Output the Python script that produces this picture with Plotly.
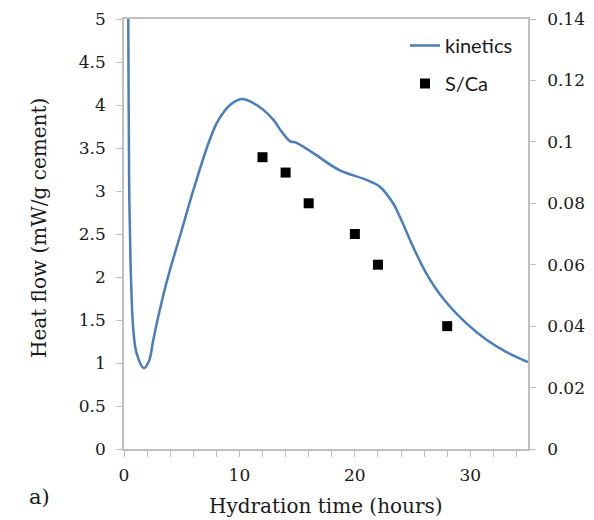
import plotly.graph_objects as go

# kinetics curve (hours, mW/g cement)
kin_t = [0.33, 0.37, 0.45, 0.52, 0.61, 0.81, 1.1, 1.72, 2.16, 2.54, 2.97, 3.75,
         4.9, 6.1, 7.3, 8.03, 8.6, 9.18, 10.19, 11.49, 12.93, 13.6, 14.37, 14.95, 16.4,
         18.7, 21.0, 22.16, 23.3, 23.9, 25.05, 26.2, 27.65, 29.67, 31.4, 33.1, 35.0]
kin_q = [5.6, 5.0, 3.0, 2.5, 1.97, 1.38, 1.11, 0.94, 1.02, 1.27, 1.54, 1.97,
         2.5, 3.05, 3.55, 3.79, 3.91, 4.0, 4.07, 4.0, 3.83, 3.70, 3.58, 3.56, 3.44,
         3.24, 3.13, 3.05, 2.86, 2.70, 2.35, 2.04, 1.75, 1.46, 1.27, 1.13, 1.01]

# S/Ca ratio (right axis)
sca_t = [12, 14, 16, 20, 22, 28]
sca_v = [0.095, 0.09, 0.08, 0.07, 0.06, 0.04]

AX = "#bfbfbf"
SERIF = "DejaVu Serif"
TXT = "#1a1a1a"

# page body has an 8px margin, so the figure is offset by (8, 8) in the window
OFF = 8
W, H = 586, 512
L, R, T, B = 116, 66, 11, 71
PW, PH = W - L - R, H - T - B


def px(x):  # window pixel -> paper x
    return (x - OFF - L) / PW


def py(y):  # window pixel -> paper y
    return (H - B - (y - OFF)) / PH


fig = go.Figure()
fig.add_trace(go.Scatter(x=kin_t, y=kin_q, mode="lines", name="kinetics", legendgroup="a",
                         line=dict(color="#4A7EBB", width=2.5, shape="spline", smoothing=1.0)))
fig.add_trace(go.Scatter(x=sca_t, y=sca_v, mode="markers", name="S/Ca", yaxis="y2", legendgroup="b",
                         marker=dict(symbol="square", size=10, color="black")))

tickfont = dict(family=SERIF, size=17, color=TXT)
fig.update_layout(
    width=W, height=H,
    margin=dict(l=L, r=R, t=T, b=B),
    plot_bgcolor="white", paper_bgcolor="white",
    showlegend=True,
    legend=dict(x=px(405), y=py(26), xanchor="left", yanchor="top",
                font=dict(family="Lato", size=20, color=TXT),
                bgcolor="rgba(0,0,0,0)", tracegroupgap=9, itemwidth=30),
    xaxis=dict(range=[0, 35], dtick=10, tick0=0, showgrid=False, zeroline=False,
               automargin=False,
               showline=True, linecolor=AX, linewidth=1.5, mirror=True,
               ticks="outside", ticklen=6, tickcolor=AX, ticklabelstandoff=4,
               minor=dict(dtick=2, ticks="outside", ticklen=6, tickcolor=AX, showgrid=False),
               tickfont=tickfont),
    yaxis=dict(range=[0, 5], dtick=0.5, showgrid=False, zeroline=False,
               automargin=False,
               showline=True, linecolor=AX, linewidth=1.5,
               ticks="outside", ticklen=6, tickcolor=AX, ticklabelstandoff=7,
               tickfont=tickfont),
    yaxis2=dict(range=[0, 0.14], dtick=0.02, overlaying="y", side="right",
                automargin=False,
                showgrid=False, zeroline=False, showline=True, linecolor=AX, linewidth=1.5,
                ticks="outside", ticklen=6, tickcolor=AX, ticklabelstandoff=8,
                tickfont=tickfont),
)

fig.add_annotation(text="Hydration time (hours)", xref="paper", yref="paper",
                   x=px(326), y=py(506), xanchor="center", yanchor="middle", showarrow=False,
                   font=dict(family=SERIF, size=20, color=TXT))
fig.add_annotation(text="Heat flow (mW/g cement)", xref="paper", yref="paper",
                   x=px(39), y=py(228), xanchor="center", yanchor="middle", showarrow=False,
                   textangle=-90, font=dict(family=SERIF, size=20, color=TXT))
fig.add_annotation(text="a)", xref="paper", yref="paper",
                   x=px(27), y=py(497), xanchor="left", yanchor="middle", showarrow=False,
                   font=dict(family=SERIF, size=21, color=TXT))

fig.write_html("out.html")
